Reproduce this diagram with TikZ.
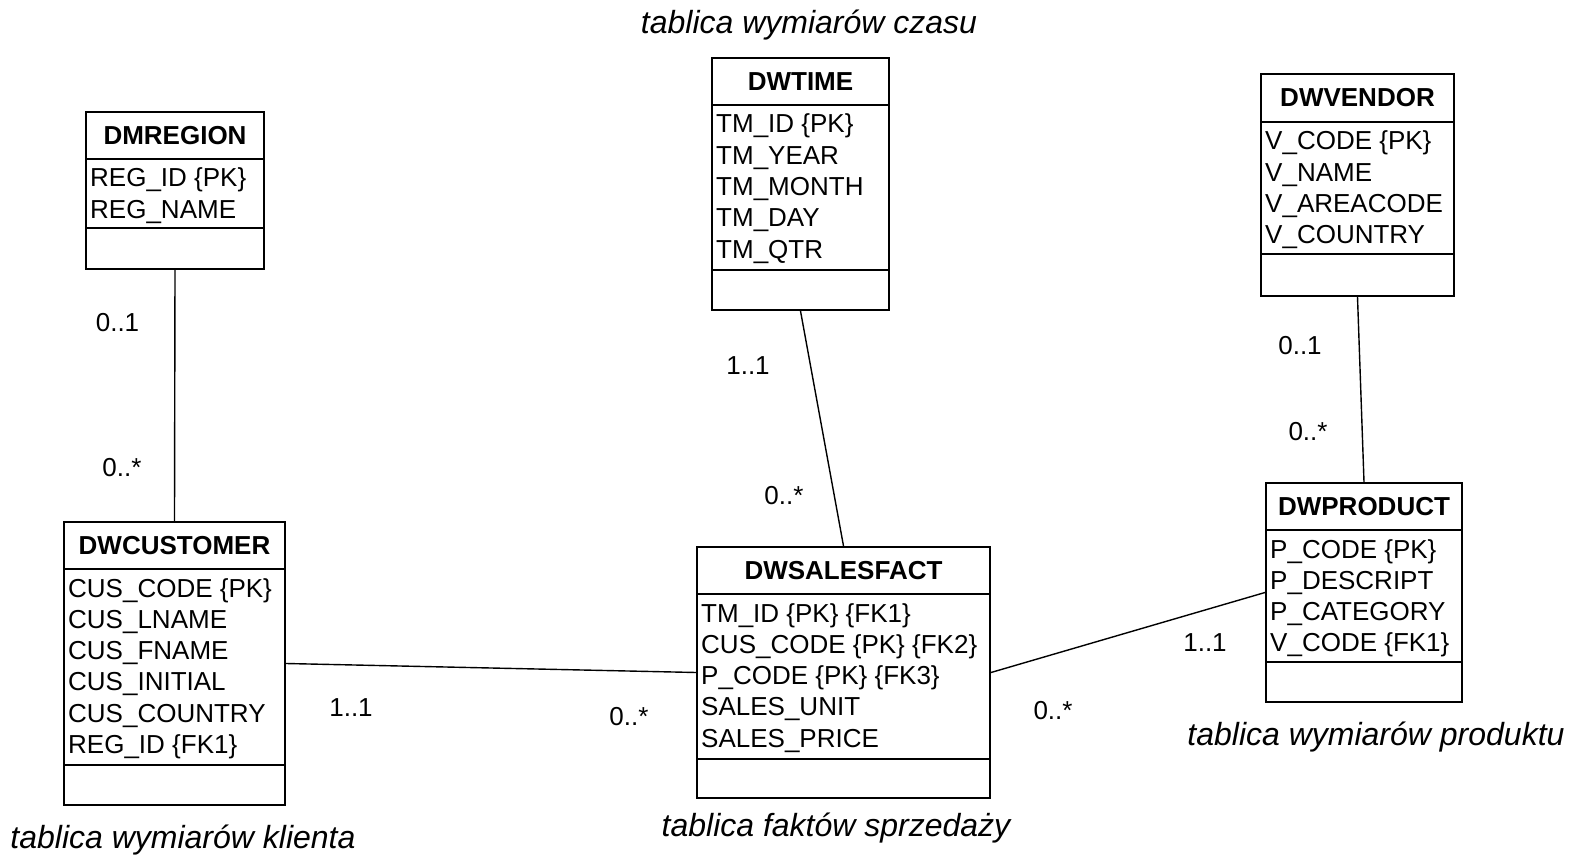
\documentclass[tikz,border=0pt]{standalone}
\usepackage{fontspec}
\setmainfont{Liberation Sans}
\usetikzlibrary{calc}

\tikzset{
  classframe/.style={draw, line width=2pt, rectangle, inner sep=0pt},
  divider/.style={line width=2pt},
  attr/.style={anchor=base west, inner sep=0pt, font=\fontsize{26}{31}\selectfont},
  classtitle/.style={inner sep=0pt, font=\fontsize{26}{31}\selectfont\bfseries},
  mult/.style={inner sep=0pt, font=\fontsize{26}{31}\selectfont},
  caption/.style={inner sep=0pt, font=\fontsize{32}{38}\selectfont\itshape},
  assoc/.style={line width=1.4pt}
}

% #1 name, #2 left, #3 top, #4 right, #5 header line, #6 attribute line, #7 bottom, #8 title
\newcommand\classbox[8]{%
  \node[classframe, minimum width={#4-#2}, minimum height={#7-#3}] (#1) at ({(#2+#4)/2},{(#3+#7)/2}) {};
  \draw[divider] (#2,#5) -- (#4,#5);
  \draw[divider] (#2,#6) -- (#4,#6);
  \node[classtitle] (#1-title) at ({(#2+#4)/2},{(#3+#5)/2}) {#8};
}
% #1 name, #2 left, #3 first baseline, #4 attribute list
\newcommand\classrows[4]{%
  \foreach \t [count=\i from 0] in {#4}
    \node[attr] (#1-row\i) at ({#2+4},{#3+31.3*\i}) {\t};
}

\begin{document}
\begin{tikzpicture}[x=1pt, y=-1pt]
\useasboundingbox (0,0) rectangle (1571,858);

% dimension tables and fact table
\classbox{region}{86}{112}{264}{159}{228}{269}{DMREGION}
\classrows{region}{86}{187}{REG\_ID \{PK\}, REG\_NAME}

\classbox{customer}{64}{522}{285}{569}{765}{805}{DWCUSTOMER}
\classrows{customer}{64}{597}{CUS\_CODE \{PK\}, CUS\_LNAME, CUS\_FNAME, CUS\_INITIAL, CUS\_COUNTRY, REG\_ID \{FK1\}}

\classbox{time}{712}{58}{889}{105}{270}{310}{DWTIME}
\classrows{time}{712}{133}{TM\_ID \{PK\}, TM\_YEAR, TM\_MONTH, TM\_DAY, TM\_QTR}

\classbox{vendor}{1261}{74}{1454}{122}{254}{296}{DWVENDOR}
\classrows{vendor}{1261}{150}{V\_CODE \{PK\}, V\_NAME, V\_AREACODE, V\_COUNTRY}

\classbox{sales}{697}{547}{990}{594}{759}{798}{DWSALESFACT}
\classrows{sales}{697}{622}{TM\_ID \{PK\} \{FK1\}, CUS\_CODE \{PK\} \{FK2\}, P\_CODE \{PK\} \{FK3\}, SALES\_UNIT, SALES\_PRICE}

\classbox{product}{1266}{483}{1462}{530}{662}{702}{DWPRODUCT}
\classrows{product}{1266}{558}{P\_CODE \{PK\}, P\_DESCRIPT, P\_CATEGORY, V\_CODE \{FK1\}}

% associations
\draw[assoc] (region.south) -- (customer.north);
\draw[assoc] (time.south) -- (sales.north);
\draw[assoc] (vendor.south) -- (product.north);
\draw[assoc] (customer.east) -- (sales.west);
\draw[assoc] (sales.east) -- (product.west);

% multiplicities
\node[mult] (m1) at (117.5,323) {0..1};
\node[mult] (m2) at (122,468) {0..*};
\node[mult] (m3) at (748,366) {1..1};
\node[mult] (m4) at (784,496) {0..*};
\node[mult] (m5) at (1300,346) {0..1};
\node[mult] (m6) at (1308,432) {0..*};
\node[mult] (m7) at (351,708) {1..1};
\node[mult] (m8) at (629,717) {0..*};
\node[mult] (m9) at (1053,711) {0..*};
\node[mult] (m10) at (1205,643) {1..1};

% table captions
\node[caption] (cap-time) at (809,25) {tablica wymiarów czasu};
\node[caption] (cap-product) at (1376,737) {tablica wymiarów produktu};
\node[caption] (cap-customer) at (183,840) {tablica wymiarów klienta};
\node[caption] (cap-sales) at (836,828) {tablica faktów sprzedaży};
\end{tikzpicture}
\end{document}
